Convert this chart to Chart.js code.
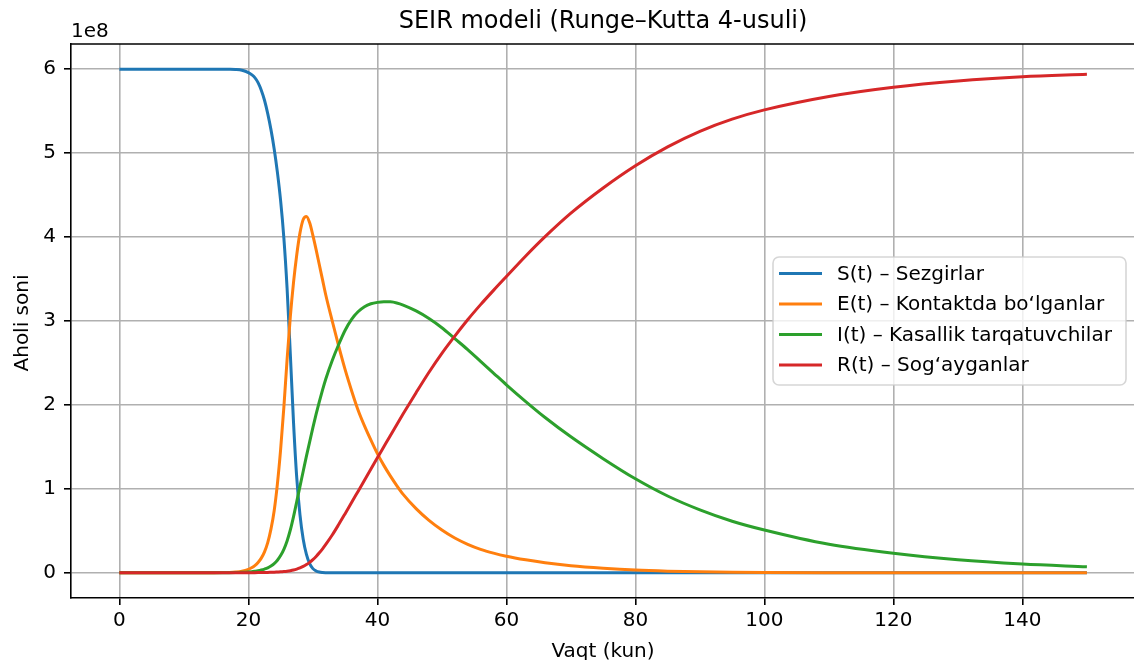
<!DOCTYPE html>
<html>
<head>
<meta charset="utf-8">
<script src="https://cdn.jsdelivr.net/npm/chart.js@4"></script>
<style>
  html, body { margin: 0; padding: 0; background: #ffffff; }
  #wrap { width: 1134px; height: 660px; }
</style>
</head>
<body>
<div id="wrap"><canvas id="c" width="1134" height="660"></canvas></div>
<script>
// ---- Data (population values in units of 1e8) ----
const UNIT = 1e8;
const tDays = [0,5,10,12,14,16, 17,18,19,20,
               20.5,21,21.5,22,22.5,23,23.5,24,24.5,25,
               25.5,26,26.5,27,27.5,28,28.5,29,29.5,30,
               30.5,31,31.5,32,
               33,34,35,36,37,38,39,40,41,42,43,44,
               46,48,50,52,54,56,58,60,
               63,66,70,75,
               80,85,90,95,100,
               110,120,130,140,150];
const S_vals = [6,6,6,6,6,6, 5.999,5.996,5.987,5.96,
                5.935,5.90,5.84,5.75,5.63,5.47,5.28,5.05,4.77,4.43,
                3.99,3.39,2.61,1.79,1.13,0.69,0.40,0.22,0.11,0.05,
                0.022,0.009,0.004,0.002,
                0.0005,0,0,0,0,0,0,0,0,0,0,0,
                0,0,0,0,0,0,0,0,
                0,0,0,0,
                0,0,0,0,0,
                0,0,0,0,0];
const E_vals = [0,0,0,0.0002,0.0005,0.0023, 0.005,0.01,0.02,0.042,
                0.06,0.086,0.123,0.175,0.25,0.36,0.52,0.74,1.06,1.47,
                1.97,2.54,3.05,3.46,3.79,4.05,4.21,4.245,4.17,4.02,
                3.85,3.67,3.49,3.31,
                3.00,2.70,2.42,2.17,1.94,1.75,1.58,1.42,1.28,1.155,1.04,0.935,
                0.765,0.625,0.51,0.415,0.34,0.28,0.235,0.198,
                0.155,0.12,0.085,0.055,
                0.033,0.02,0.012,0.007,0.004,
                0.0015,0.0005,0,0,0];
const I_vals = [0,0,0,0,0,0.001, 0.0015,0.003,0.006,0.01,
                0.013,0.018,0.024,0.033,0.045,0.06,0.082,0.11,0.15,0.205,
                0.28,0.38,0.51,0.67,0.85,1.03,1.21,1.39,1.56,1.73,
                1.89,2.04,2.18,2.31,
                2.53,2.72,2.89,3.02,3.11,3.17,3.205,3.222,3.23,3.228,3.215,3.19,
                3.12,3.03,2.92,2.79,2.66,2.52,2.38,2.24,
                2.04,1.85,1.62,1.36,
                1.12,0.915,0.75,0.615,0.51,
                0.34,0.232,0.155,0.105,0.072];
const R_vals = [0,0,0,0,0,0, 0,0,0,0.001,
                0.0015,0.002,0.0025,0.003,0.004,0.005,0.0065,0.008,0.010,0.012,
                0.015,0.019,0.025,0.033,0.044,0.058,0.076,0.098,0.125,0.157,
                0.195,0.238,0.286,0.338,
                0.45,0.575,0.705,0.837,0.97,1.103,1.236,1.37,1.502,1.634,1.765,1.894,
                2.146,2.39,2.615,2.82,3.015,3.195,3.365,3.53,
                3.775,4.005,4.285,4.585,
                4.85,5.075,5.26,5.405,5.515,
                5.675,5.785,5.86,5.91,5.94];
const seriesLabels = ['S(t) \u2013 Sezgirlar', 'E(t) \u2013 Kontaktda bo\u2018lganlar',
                      'I(t) \u2013 Kasallik tarqatuvchilar', 'R(t) \u2013 Sog\u2018ayganlar'];
const seriesColors = ['#1f77b4', '#ff7f0e', '#2ca02c', '#d62728'];
const xTicks = [0, 20, 40, 60, 80, 100, 120, 140];
const yTicks = [0, 1, 2, 3, 4, 5, 6];
const titleText = 'SEIR modeli (Runge\u2013Kutta 4-usuli)';
const xLabel = 'Vaqt (kun)';
const yLabel = 'Aholi soni';
const offsetText = '1e8';

const FONT = '"DejaVu Sans", "Liberation Sans", sans-serif';

function toPoints(vals) {
  return tDays.map((t, i) => ({ x: t, y: vals[i] * UNIT }));
}
const allVals = [S_vals, E_vals, I_vals, R_vals];
const datasets = allVals.map((vals, k) => ({
  label: seriesLabels[k],
  data: toPoints(vals),
  borderColor: seriesColors[k],
  backgroundColor: seriesColors[k],
  borderWidth: 3,
  pointRadius: 0,
  cubicInterpolationMode: 'monotone',
  fill: false,
  order: 4 - k
}));

const decor = {
  id: 'decor',
  afterDraw(chart) {
    const ctx = chart.ctx;
    const a = chart.chartArea;
    ctx.save();
    // top spine
    ctx.strokeStyle = '#000';
    ctx.lineWidth = 1.6;
    ctx.beginPath();
    ctx.moveTo(a.left - 0.8, a.top);
    ctx.lineTo(a.right + 2, a.top);
    ctx.stroke();

    ctx.fillStyle = '#000';
    // title
    ctx.font = '24px ' + FONT;
    ctx.textAlign = 'center';
    ctx.textBaseline = 'alphabetic';
    ctx.fillText(titleText, 603, 28);
    // offset text
    ctx.font = '20px ' + FONT;
    ctx.textAlign = 'left';
    ctx.fillText(offsetText, 71, 37);
    // x label
    ctx.textAlign = 'center';
    ctx.fillText(xLabel, 603, 657);
    // y label
    ctx.save();
    ctx.translate(28, 323);
    ctx.rotate(-Math.PI / 2);
    ctx.fillText(yLabel, 0, 0);
    ctx.restore();

    // legend
    const bx = 773, by = 257, bw = 353, bh = 128, r = 6;
    ctx.beginPath();
    ctx.moveTo(bx + r, by);
    ctx.lineTo(bx + bw - r, by);
    ctx.arcTo(bx + bw, by, bx + bw, by + r, r);
    ctx.lineTo(bx + bw, by + bh - r);
    ctx.arcTo(bx + bw, by + bh, bx + bw - r, by + bh, r);
    ctx.lineTo(bx + r, by + bh);
    ctx.arcTo(bx, by + bh, bx, by + bh - r, r);
    ctx.lineTo(bx, by + r);
    ctx.arcTo(bx, by, bx + r, by, r);
    ctx.closePath();
    ctx.fillStyle = 'rgba(255,255,255,0.8)';
    ctx.fill();
    ctx.strokeStyle = 'rgba(204,204,204,0.8)';
    ctx.lineWidth = 1.6;
    ctx.stroke();

    const rows = [273.5, 304, 334.5, 365];
    ctx.font = '20px ' + FONT;
    ctx.textAlign = 'left';
    ctx.textBaseline = 'middle';
    for (let k = 0; k < 4; k++) {
      ctx.strokeStyle = seriesColors[k];
      ctx.lineWidth = 3;
      ctx.beginPath();
      ctx.moveTo(779, rows[k]);
      ctx.lineTo(822, rows[k]);
      ctx.stroke();
      ctx.fillStyle = '#000';
      ctx.fillText(seriesLabels[k], 837, rows[k] + 1);
    }
    ctx.restore();
  }
};

new Chart(document.getElementById('c'), {
  type: 'line',
  data: { datasets },
  options: {
    responsive: false,
    animation: false,
    devicePixelRatio: 1,
    layout: { padding: { top: 44, right: 0, bottom: 0, left: 0 } },
    plugins: { legend: { display: false }, tooltip: { enabled: false }, title: { display: false } },
    scales: {
      x: {
        type: 'linear',
        min: -7.5,
        max: 157.3,
        afterBuildTicks: s => { s.ticks = xTicks.map(v => ({ value: v })); },
        afterFit: s => { s.height = 62; },
        grid: { color: '#b0b0b0', lineWidth: 1.6, drawTicks: true, tickLength: 7, tickColor: '#000', tickWidth: 1.6 },
        border: { display: true, color: '#000', width: 1.6 },
        ticks: { font: { family: FONT, size: 20 }, color: '#000', padding: 4, maxRotation: 0, autoSkip: false,
                 callback: v => String(v) }
      },
      y: {
        type: 'linear',
        min: -0.3 * UNIT,
        max: 6.3 * UNIT,
        afterBuildTicks: s => { s.ticks = yTicks.map(v => ({ value: v * UNIT })); },
        afterFit: s => { s.width = 71; },
        grid: { color: '#b0b0b0', lineWidth: 1.6, drawTicks: true, tickLength: 7, tickColor: '#000', tickWidth: 1.6 },
        border: { display: true, color: '#000', width: 1.6 },
        ticks: { font: { family: FONT, size: 20 }, color: '#000', padding: 8, autoSkip: false,
                 callback: v => String(Math.round(v / UNIT)) }
      }
    }
  },
  plugins: [decor]
});
</script>
</body>
</html>
